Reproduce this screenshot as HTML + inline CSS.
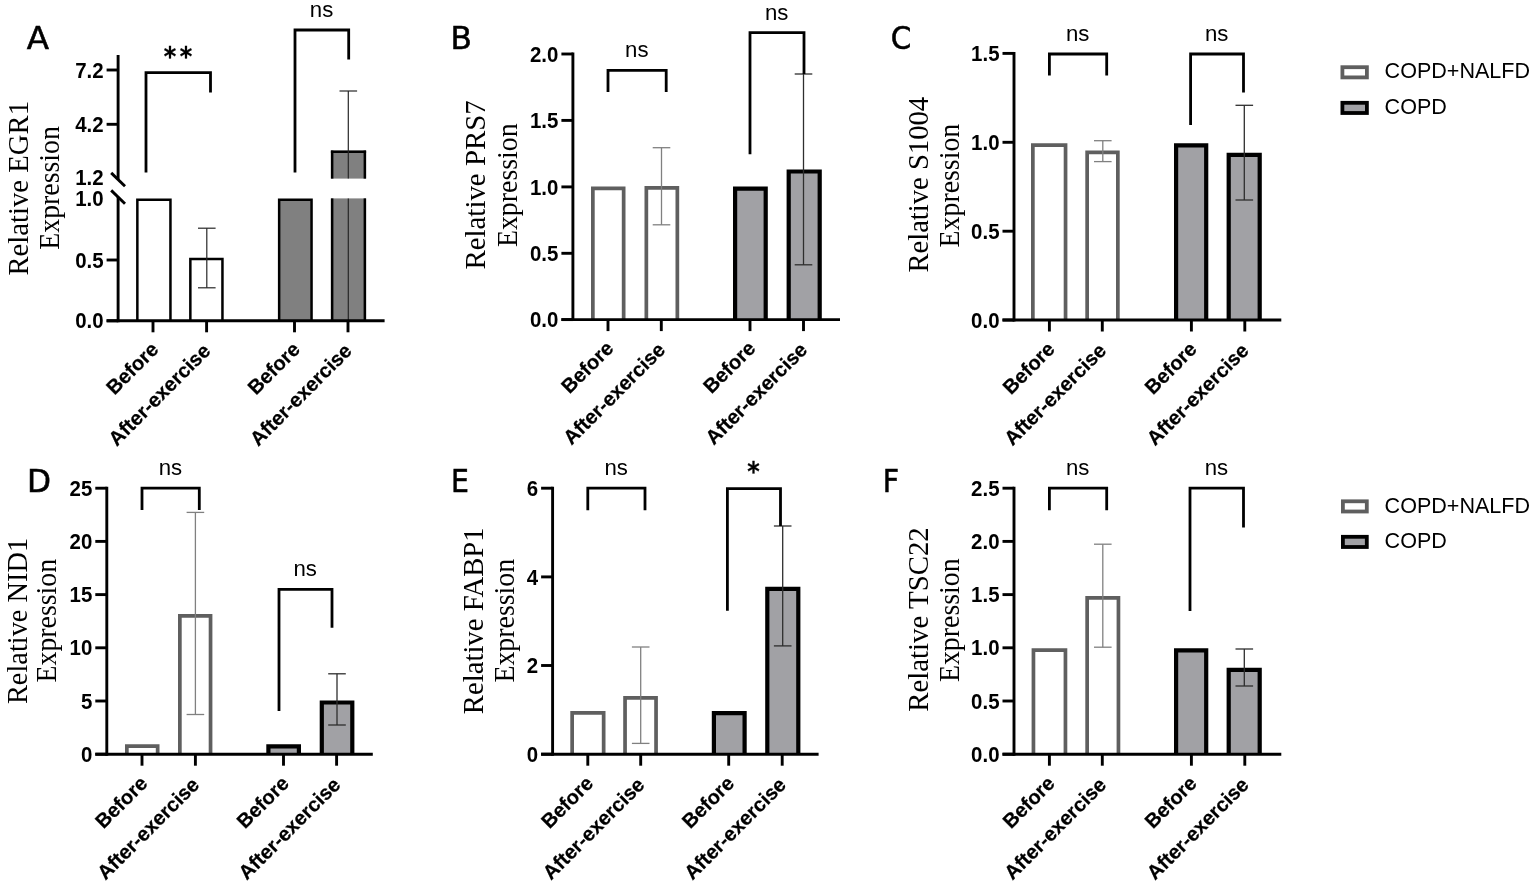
<!DOCTYPE html>
<html lang="en"><head><meta charset="utf-8"><title>Figure</title>
<style>
html,body{margin:0;padding:0;background:#fff;}
body{width:1535px;height:885px;overflow:hidden;}
svg{display:block;}
text{fill:#000;}
</style></head><body>
<svg width="1535" height="885" viewBox="0 0 1535 885">
<rect width="1535" height="885" fill="#fff"/>
<path d="M137.35,320.80 V199.65 H170.45 V320.80" fill="#fff" stroke="#000" stroke-width="2.5" stroke-linejoin="miter"/>
<path d="M190.35,320.80 V259.05 H222.45 V320.80" fill="#fff" stroke="#000" stroke-width="2.5" stroke-linejoin="miter"/>
<line x1="206.80" y1="228.20" x2="206.80" y2="287.80" stroke="#262626" stroke-width="1.2" stroke-linecap="butt"/>
<line x1="198.00" y1="228.20" x2="215.60" y2="228.20" stroke="#262626" stroke-width="1.2" stroke-linecap="butt"/>
<line x1="198.00" y1="287.80" x2="215.60" y2="287.80" stroke="#262626" stroke-width="1.2" stroke-linecap="butt"/>
<path d="M279.15,320.80 V199.65 H311.55 V320.80" fill="#808080" stroke="#000" stroke-width="2.5" stroke-linejoin="miter"/>
<rect x="330.90" y="150.60" width="35.20" height="28.00" fill="#808080"/>
<line x1="332.15" y1="150.60" x2="332.15" y2="178.60" stroke="#000" stroke-width="2.5" stroke-linecap="butt"/>
<line x1="364.85" y1="150.60" x2="364.85" y2="178.60" stroke="#000" stroke-width="2.5" stroke-linecap="butt"/>
<rect x="330.90" y="198.40" width="35.20" height="122.60" fill="#808080"/>
<line x1="332.15" y1="198.40" x2="332.15" y2="321.00" stroke="#000" stroke-width="2.5" stroke-linecap="butt"/>
<line x1="364.85" y1="198.40" x2="364.85" y2="321.00" stroke="#000" stroke-width="2.5" stroke-linecap="butt"/>
<line x1="330.90" y1="151.85" x2="366.10" y2="151.85" stroke="#000" stroke-width="2.5" stroke-linecap="butt"/>
<line x1="348.30" y1="91.00" x2="348.30" y2="178.60" stroke="#262626" stroke-width="1.2" stroke-linecap="butt"/>
<line x1="348.30" y1="198.40" x2="348.30" y2="321.00" stroke="#262626" stroke-width="1.2" stroke-linecap="butt"/>
<line x1="339.50" y1="91.00" x2="357.10" y2="91.00" stroke="#262626" stroke-width="1.2" stroke-linecap="butt"/>
<line x1="118.10" y1="55.00" x2="118.10" y2="179.60" stroke="#000" stroke-width="2.9" stroke-linecap="butt"/>
<line x1="118.10" y1="197.10" x2="118.10" y2="322.25" stroke="#000" stroke-width="2.9" stroke-linecap="butt"/>
<line x1="111.20" y1="172.90" x2="125.00" y2="186.30" stroke="#000" stroke-width="2.9" stroke-linecap="butt"/>
<line x1="111.20" y1="190.40" x2="125.00" y2="203.80" stroke="#000" stroke-width="2.9" stroke-linecap="butt"/>
<line x1="106.60" y1="320.80" x2="384.60" y2="320.80" stroke="#000" stroke-width="2.9" stroke-linecap="butt"/>
<line x1="106.60" y1="70.00" x2="118.10" y2="70.00" stroke="#000" stroke-width="2.9" stroke-linecap="butt"/>
<text transform="translate(103.60 77.60) scale(0.905 1)" font-family='"Liberation Sans", sans-serif' font-size="22.6" font-weight="bold" text-anchor="end">7.2</text>
<line x1="106.60" y1="124.30" x2="118.10" y2="124.30" stroke="#000" stroke-width="2.9" stroke-linecap="butt"/>
<text transform="translate(103.60 131.90) scale(0.905 1)" font-family='"Liberation Sans", sans-serif' font-size="22.6" font-weight="bold" text-anchor="end">4.2</text>
<text transform="translate(103.60 185.10) scale(0.905 1)" font-family='"Liberation Sans", sans-serif' font-size="22.6" font-weight="bold" text-anchor="end">1.2</text>
<text transform="translate(103.60 206.10) scale(0.905 1)" font-family='"Liberation Sans", sans-serif' font-size="22.6" font-weight="bold" text-anchor="end">1.0</text>
<line x1="106.60" y1="260.00" x2="118.10" y2="260.00" stroke="#000" stroke-width="2.9" stroke-linecap="butt"/>
<text transform="translate(103.60 267.60) scale(0.905 1)" font-family='"Liberation Sans", sans-serif' font-size="22.6" font-weight="bold" text-anchor="end">0.5</text>
<line x1="106.60" y1="320.80" x2="118.10" y2="320.80" stroke="#000" stroke-width="2.9" stroke-linecap="butt"/>
<text transform="translate(103.60 328.40) scale(0.905 1)" font-family='"Liberation Sans", sans-serif' font-size="22.6" font-weight="bold" text-anchor="end">0.0</text>
<line x1="153.00" y1="320.80" x2="153.00" y2="332.30" stroke="#000" stroke-width="2.9" stroke-linecap="butt"/>
<line x1="206.60" y1="320.80" x2="206.60" y2="332.30" stroke="#000" stroke-width="2.9" stroke-linecap="butt"/>
<line x1="294.50" y1="320.80" x2="294.50" y2="332.30" stroke="#000" stroke-width="2.9" stroke-linecap="butt"/>
<line x1="348.00" y1="320.80" x2="348.00" y2="332.30" stroke="#000" stroke-width="2.9" stroke-linecap="butt"/>
<text x="159.60" y="350.70" font-family='"Liberation Sans", sans-serif' font-size="20.1" font-weight="bold" text-anchor="end" transform="rotate(-45 159.60 350.70)" stroke="#000" stroke-width="0.25">Before</text>
<text x="211.60" y="352.10" font-family='"Liberation Sans", sans-serif' font-size="20.1" font-weight="bold" text-anchor="end" transform="rotate(-45 211.60 352.10)" stroke="#000" stroke-width="0.25">After-exercise</text>
<text x="301.10" y="350.70" font-family='"Liberation Sans", sans-serif' font-size="20.1" font-weight="bold" text-anchor="end" transform="rotate(-45 301.10 350.70)" stroke="#000" stroke-width="0.25">Before</text>
<text x="353.00" y="352.10" font-family='"Liberation Sans", sans-serif' font-size="20.1" font-weight="bold" text-anchor="end" transform="rotate(-45 353.00 352.10)" stroke="#000" stroke-width="0.25">After-exercise</text>
<polyline points="146.00,172.50 146.00,72.60 210.50,72.60 210.50,92.50" fill="none" stroke="#000" stroke-width="2.8" stroke-linejoin="miter"/>
<text transform="translate(169.85 66.40) scale(0.9 1)" font-family='"DejaVu Sans", sans-serif' font-size="26.5" font-weight="bold" text-anchor="middle" stroke="#000" stroke-width="0.3">*</text>
<text transform="translate(185.85 66.40) scale(0.9 1)" font-family='"DejaVu Sans", sans-serif' font-size="26.5" font-weight="bold" text-anchor="middle" stroke="#000" stroke-width="0.3">*</text>
<polyline points="295.00,172.50 295.00,30.00 348.70,30.00 348.70,59.40" fill="none" stroke="#000" stroke-width="2.8" stroke-linejoin="miter"/>
<text x="321.55" y="16.90" font-family='"Liberation Sans", sans-serif' font-size="22.2" font-weight="normal" text-anchor="middle">ns</text>
<text transform="translate(26.80 48.60) scale(1.15 1)" font-family='"DejaVu Sans Condensed", "DejaVu Sans", "Liberation Sans", sans-serif' font-stretch="condensed" font-size="31.5" stroke="#000" stroke-width="0.5">A</text>
<text x="28.30" y="188.30" font-family='"Liberation Serif", serif' font-size="30.2" font-weight="normal" text-anchor="middle" transform="rotate(-90 28.30 188.30)" fill="#1a1a1a" textLength="174.6" lengthAdjust="spacingAndGlyphs">Relative EGR1</text>
<text x="59.20" y="187.90" font-family='"Liberation Serif", serif' font-size="30.2" font-weight="normal" text-anchor="middle" transform="rotate(-90 59.20 187.90)" fill="#1a1a1a" textLength="123.6" lengthAdjust="spacingAndGlyphs">Expression</text>
<path d="M592.85,319.60 V188.35 H623.65 V319.60" fill="#fff" stroke="#5f5f5f" stroke-width="3.7" stroke-linejoin="miter"/>
<path d="M646.35,319.60 V187.85 H677.35 V319.60" fill="#fff" stroke="#5f5f5f" stroke-width="3.7" stroke-linejoin="miter"/>
<line x1="661.50" y1="147.70" x2="661.50" y2="224.80" stroke="#808080" stroke-width="1.3" stroke-linecap="butt"/>
<line x1="652.70" y1="147.70" x2="670.30" y2="147.70" stroke="#808080" stroke-width="1.3" stroke-linecap="butt"/>
<line x1="652.70" y1="224.80" x2="670.30" y2="224.80" stroke="#808080" stroke-width="1.3" stroke-linecap="butt"/>
<path d="M735.10,319.60 V188.60 H765.70 V319.60" fill="#a1a1a5" stroke="#000" stroke-width="4.2" stroke-linejoin="miter"/>
<path d="M788.70,319.60 V171.50 H819.70 V319.60" fill="#a1a1a5" stroke="#000" stroke-width="4.2" stroke-linejoin="miter"/>
<line x1="803.50" y1="74.00" x2="803.50" y2="264.80" stroke="#2e2e2e" stroke-width="1.3" stroke-linecap="butt"/>
<line x1="794.70" y1="74.00" x2="812.30" y2="74.00" stroke="#2e2e2e" stroke-width="1.3" stroke-linecap="butt"/>
<line x1="794.70" y1="264.80" x2="812.30" y2="264.80" stroke="#2e2e2e" stroke-width="1.3" stroke-linecap="butt"/>
<line x1="572.90" y1="52.55" x2="572.90" y2="321.05" stroke="#000" stroke-width="2.9" stroke-linecap="butt"/>
<line x1="561.40" y1="319.60" x2="840.00" y2="319.60" stroke="#000" stroke-width="2.9" stroke-linecap="butt"/>
<line x1="561.40" y1="54.00" x2="572.90" y2="54.00" stroke="#000" stroke-width="2.9" stroke-linecap="butt"/>
<text transform="translate(558.40 61.60) scale(0.905 1)" font-family='"Liberation Sans", sans-serif' font-size="22.6" font-weight="bold" text-anchor="end">2.0</text>
<line x1="561.40" y1="120.40" x2="572.90" y2="120.40" stroke="#000" stroke-width="2.9" stroke-linecap="butt"/>
<text transform="translate(558.40 128.00) scale(0.905 1)" font-family='"Liberation Sans", sans-serif' font-size="22.6" font-weight="bold" text-anchor="end">1.5</text>
<line x1="561.40" y1="186.90" x2="572.90" y2="186.90" stroke="#000" stroke-width="2.9" stroke-linecap="butt"/>
<text transform="translate(558.40 194.50) scale(0.905 1)" font-family='"Liberation Sans", sans-serif' font-size="22.6" font-weight="bold" text-anchor="end">1.0</text>
<line x1="561.40" y1="253.30" x2="572.90" y2="253.30" stroke="#000" stroke-width="2.9" stroke-linecap="butt"/>
<text transform="translate(558.40 260.90) scale(0.905 1)" font-family='"Liberation Sans", sans-serif' font-size="22.6" font-weight="bold" text-anchor="end">0.5</text>
<line x1="561.40" y1="319.60" x2="572.90" y2="319.60" stroke="#000" stroke-width="2.9" stroke-linecap="butt"/>
<text transform="translate(558.40 327.20) scale(0.905 1)" font-family='"Liberation Sans", sans-serif' font-size="22.6" font-weight="bold" text-anchor="end">0.0</text>
<line x1="608.00" y1="319.60" x2="608.00" y2="331.10" stroke="#000" stroke-width="2.9" stroke-linecap="butt"/>
<line x1="661.30" y1="319.60" x2="661.30" y2="331.10" stroke="#000" stroke-width="2.9" stroke-linecap="butt"/>
<line x1="750.00" y1="319.60" x2="750.00" y2="331.10" stroke="#000" stroke-width="2.9" stroke-linecap="butt"/>
<line x1="803.50" y1="319.60" x2="803.50" y2="331.10" stroke="#000" stroke-width="2.9" stroke-linecap="butt"/>
<text x="614.60" y="349.60" font-family='"Liberation Sans", sans-serif' font-size="20.1" font-weight="bold" text-anchor="end" transform="rotate(-45 614.60 349.60)" stroke="#000" stroke-width="0.25">Before</text>
<text x="666.30" y="351.00" font-family='"Liberation Sans", sans-serif' font-size="20.1" font-weight="bold" text-anchor="end" transform="rotate(-45 666.30 351.00)" stroke="#000" stroke-width="0.25">After-exercise</text>
<text x="756.60" y="349.60" font-family='"Liberation Sans", sans-serif' font-size="20.1" font-weight="bold" text-anchor="end" transform="rotate(-45 756.60 349.60)" stroke="#000" stroke-width="0.25">Before</text>
<text x="808.50" y="351.00" font-family='"Liberation Sans", sans-serif' font-size="20.1" font-weight="bold" text-anchor="end" transform="rotate(-45 808.50 351.00)" stroke="#000" stroke-width="0.25">After-exercise</text>
<polyline points="608.00,92.00 608.00,70.40 666.20,70.40 666.20,92.00" fill="none" stroke="#000" stroke-width="2.8" stroke-linejoin="miter"/>
<text x="636.80" y="57.30" font-family='"Liberation Sans", sans-serif' font-size="22.2" font-weight="normal" text-anchor="middle">ns</text>
<polyline points="750.00,154.30 750.00,32.60 804.00,32.60 804.00,74.00" fill="none" stroke="#000" stroke-width="2.8" stroke-linejoin="miter"/>
<text x="776.70" y="19.50" font-family='"Liberation Sans", sans-serif' font-size="22.2" font-weight="normal" text-anchor="middle">ns</text>
<text transform="translate(450.50 48.70) scale(1.1 1)" font-family='"DejaVu Sans Condensed", "DejaVu Sans", "Liberation Sans", sans-serif' font-stretch="condensed" font-size="31.5" stroke="#000" stroke-width="0.5">B</text>
<text x="485.40" y="184.90" font-family='"Liberation Serif", serif' font-size="30.2" font-weight="normal" text-anchor="middle" transform="rotate(-90 485.40 184.90)" fill="#1a1a1a" textLength="169.4" lengthAdjust="spacingAndGlyphs">Relative PRS7</text>
<text x="516.80" y="185.20" font-family='"Liberation Serif", serif' font-size="30.2" font-weight="normal" text-anchor="middle" transform="rotate(-90 516.80 185.20)" fill="#1a1a1a" textLength="123.7" lengthAdjust="spacingAndGlyphs">Expression</text>
<path d="M1032.85,320.00 V145.15 H1065.55 V320.00" fill="#fff" stroke="#5f5f5f" stroke-width="3.7" stroke-linejoin="miter"/>
<path d="M1087.15,320.00 V152.45 H1117.85 V320.00" fill="#fff" stroke="#5f5f5f" stroke-width="3.7" stroke-linejoin="miter"/>
<line x1="1102.80" y1="140.70" x2="1102.80" y2="161.60" stroke="#808080" stroke-width="1.3" stroke-linecap="butt"/>
<line x1="1094.00" y1="140.70" x2="1111.60" y2="140.70" stroke="#808080" stroke-width="1.3" stroke-linecap="butt"/>
<line x1="1094.00" y1="161.60" x2="1111.60" y2="161.60" stroke="#808080" stroke-width="1.3" stroke-linecap="butt"/>
<path d="M1176.10,320.00 V145.40 H1206.20 V320.00" fill="#a1a1a5" stroke="#000" stroke-width="4.2" stroke-linejoin="miter"/>
<path d="M1228.70,320.00 V154.80 H1259.70 V320.00" fill="#a1a1a5" stroke="#000" stroke-width="4.2" stroke-linejoin="miter"/>
<line x1="1244.30" y1="105.30" x2="1244.30" y2="200.00" stroke="#2e2e2e" stroke-width="1.3" stroke-linecap="butt"/>
<line x1="1235.50" y1="105.30" x2="1253.10" y2="105.30" stroke="#2e2e2e" stroke-width="1.3" stroke-linecap="butt"/>
<line x1="1235.50" y1="200.00" x2="1253.10" y2="200.00" stroke="#2e2e2e" stroke-width="1.3" stroke-linecap="butt"/>
<line x1="1014.00" y1="51.95" x2="1014.00" y2="321.45" stroke="#000" stroke-width="2.9" stroke-linecap="butt"/>
<line x1="1002.50" y1="320.00" x2="1281.30" y2="320.00" stroke="#000" stroke-width="2.9" stroke-linecap="butt"/>
<line x1="1002.50" y1="53.40" x2="1014.00" y2="53.40" stroke="#000" stroke-width="2.9" stroke-linecap="butt"/>
<text transform="translate(999.50 61.00) scale(0.905 1)" font-family='"Liberation Sans", sans-serif' font-size="22.6" font-weight="bold" text-anchor="end">1.5</text>
<line x1="1002.50" y1="142.30" x2="1014.00" y2="142.30" stroke="#000" stroke-width="2.9" stroke-linecap="butt"/>
<text transform="translate(999.50 149.90) scale(0.905 1)" font-family='"Liberation Sans", sans-serif' font-size="22.6" font-weight="bold" text-anchor="end">1.0</text>
<line x1="1002.50" y1="231.20" x2="1014.00" y2="231.20" stroke="#000" stroke-width="2.9" stroke-linecap="butt"/>
<text transform="translate(999.50 238.80) scale(0.905 1)" font-family='"Liberation Sans", sans-serif' font-size="22.6" font-weight="bold" text-anchor="end">0.5</text>
<line x1="1002.50" y1="320.00" x2="1014.00" y2="320.00" stroke="#000" stroke-width="2.9" stroke-linecap="butt"/>
<text transform="translate(999.50 327.60) scale(0.905 1)" font-family='"Liberation Sans", sans-serif' font-size="22.6" font-weight="bold" text-anchor="end">0.0</text>
<line x1="1049.40" y1="320.00" x2="1049.40" y2="331.50" stroke="#000" stroke-width="2.9" stroke-linecap="butt"/>
<line x1="1102.30" y1="320.00" x2="1102.30" y2="331.50" stroke="#000" stroke-width="2.9" stroke-linecap="butt"/>
<line x1="1191.40" y1="320.00" x2="1191.40" y2="331.50" stroke="#000" stroke-width="2.9" stroke-linecap="butt"/>
<line x1="1244.80" y1="320.00" x2="1244.80" y2="331.50" stroke="#000" stroke-width="2.9" stroke-linecap="butt"/>
<text x="1056.00" y="350.40" font-family='"Liberation Sans", sans-serif' font-size="20.1" font-weight="bold" text-anchor="end" transform="rotate(-45 1056.00 350.40)" stroke="#000" stroke-width="0.25">Before</text>
<text x="1107.30" y="351.80" font-family='"Liberation Sans", sans-serif' font-size="20.1" font-weight="bold" text-anchor="end" transform="rotate(-45 1107.30 351.80)" stroke="#000" stroke-width="0.25">After-exercise</text>
<text x="1198.00" y="350.40" font-family='"Liberation Sans", sans-serif' font-size="20.1" font-weight="bold" text-anchor="end" transform="rotate(-45 1198.00 350.40)" stroke="#000" stroke-width="0.25">Before</text>
<text x="1249.80" y="351.80" font-family='"Liberation Sans", sans-serif' font-size="20.1" font-weight="bold" text-anchor="end" transform="rotate(-45 1249.80 351.80)" stroke="#000" stroke-width="0.25">After-exercise</text>
<polyline points="1049.40,75.60 1049.40,54.00 1106.70,54.00 1106.70,75.60" fill="none" stroke="#000" stroke-width="2.8" stroke-linejoin="miter"/>
<text x="1077.75" y="40.90" font-family='"Liberation Sans", sans-serif' font-size="22.2" font-weight="normal" text-anchor="middle">ns</text>
<polyline points="1190.60,125.00 1190.60,54.00 1243.50,54.00 1243.50,92.50" fill="none" stroke="#000" stroke-width="2.8" stroke-linejoin="miter"/>
<text x="1216.75" y="40.90" font-family='"Liberation Sans", sans-serif' font-size="22.2" font-weight="normal" text-anchor="middle">ns</text>
<text transform="translate(890.80 48.50) scale(1.04 1)" font-family='"DejaVu Sans Condensed", "DejaVu Sans", "Liberation Sans", sans-serif' font-stretch="condensed" font-size="31.5" stroke="#000" stroke-width="0.5">C</text>
<text x="927.60" y="184.70" font-family='"Liberation Serif", serif' font-size="30.2" font-weight="normal" text-anchor="middle" transform="rotate(-90 927.60 184.70)" fill="#1a1a1a" textLength="175.8" lengthAdjust="spacingAndGlyphs">Relative S1004</text>
<text x="959.20" y="185.60" font-family='"Liberation Serif", serif' font-size="30.2" font-weight="normal" text-anchor="middle" transform="rotate(-90 959.20 185.60)" fill="#1a1a1a" textLength="123.7" lengthAdjust="spacingAndGlyphs">Expression</text>
<path d="M126.85,754.20 V746.05 H157.65 V754.20" fill="#fff" stroke="#5f5f5f" stroke-width="3.7" stroke-linejoin="miter"/>
<path d="M179.85,754.20 V615.85 H210.55 V754.20" fill="#fff" stroke="#5f5f5f" stroke-width="3.7" stroke-linejoin="miter"/>
<line x1="195.40" y1="512.40" x2="195.40" y2="714.50" stroke="#808080" stroke-width="1.3" stroke-linecap="butt"/>
<line x1="186.60" y1="512.40" x2="204.20" y2="512.40" stroke="#808080" stroke-width="1.3" stroke-linecap="butt"/>
<line x1="186.60" y1="714.50" x2="204.20" y2="714.50" stroke="#808080" stroke-width="1.3" stroke-linecap="butt"/>
<path d="M268.40,754.20 V746.30 H298.90 V754.20" fill="#a1a1a5" stroke="#000" stroke-width="4.2" stroke-linejoin="miter"/>
<path d="M321.80,754.20 V702.50 H352.30 V754.20" fill="#a1a1a5" stroke="#000" stroke-width="4.2" stroke-linejoin="miter"/>
<line x1="337.00" y1="673.80" x2="337.00" y2="725.00" stroke="#2e2e2e" stroke-width="1.3" stroke-linecap="butt"/>
<line x1="328.20" y1="673.80" x2="345.80" y2="673.80" stroke="#2e2e2e" stroke-width="1.3" stroke-linecap="butt"/>
<line x1="328.20" y1="725.00" x2="345.80" y2="725.00" stroke="#2e2e2e" stroke-width="1.3" stroke-linecap="butt"/>
<line x1="106.80" y1="486.75" x2="106.80" y2="755.65" stroke="#000" stroke-width="2.9" stroke-linecap="butt"/>
<line x1="95.30" y1="754.20" x2="372.80" y2="754.20" stroke="#000" stroke-width="2.9" stroke-linecap="butt"/>
<line x1="95.30" y1="488.20" x2="106.80" y2="488.20" stroke="#000" stroke-width="2.9" stroke-linecap="butt"/>
<text transform="translate(92.30 495.80) scale(0.905 1)" font-family='"Liberation Sans", sans-serif' font-size="22.6" font-weight="bold" text-anchor="end">25</text>
<line x1="95.30" y1="541.40" x2="106.80" y2="541.40" stroke="#000" stroke-width="2.9" stroke-linecap="butt"/>
<text transform="translate(92.30 549.00) scale(0.905 1)" font-family='"Liberation Sans", sans-serif' font-size="22.6" font-weight="bold" text-anchor="end">20</text>
<line x1="95.30" y1="594.60" x2="106.80" y2="594.60" stroke="#000" stroke-width="2.9" stroke-linecap="butt"/>
<text transform="translate(92.30 602.20) scale(0.905 1)" font-family='"Liberation Sans", sans-serif' font-size="22.6" font-weight="bold" text-anchor="end">15</text>
<line x1="95.30" y1="647.80" x2="106.80" y2="647.80" stroke="#000" stroke-width="2.9" stroke-linecap="butt"/>
<text transform="translate(92.30 655.40) scale(0.905 1)" font-family='"Liberation Sans", sans-serif' font-size="22.6" font-weight="bold" text-anchor="end">10</text>
<line x1="95.30" y1="701.00" x2="106.80" y2="701.00" stroke="#000" stroke-width="2.9" stroke-linecap="butt"/>
<text transform="translate(92.30 708.60) scale(0.905 1)" font-family='"Liberation Sans", sans-serif' font-size="22.6" font-weight="bold" text-anchor="end">5</text>
<line x1="95.30" y1="754.20" x2="106.80" y2="754.20" stroke="#000" stroke-width="2.9" stroke-linecap="butt"/>
<text transform="translate(92.30 761.80) scale(0.905 1)" font-family='"Liberation Sans", sans-serif' font-size="22.6" font-weight="bold" text-anchor="end">0</text>
<line x1="142.00" y1="754.20" x2="142.00" y2="765.70" stroke="#000" stroke-width="2.9" stroke-linecap="butt"/>
<line x1="195.40" y1="754.20" x2="195.40" y2="765.70" stroke="#000" stroke-width="2.9" stroke-linecap="butt"/>
<line x1="283.50" y1="754.20" x2="283.50" y2="765.70" stroke="#000" stroke-width="2.9" stroke-linecap="butt"/>
<line x1="336.60" y1="754.20" x2="336.60" y2="765.70" stroke="#000" stroke-width="2.9" stroke-linecap="butt"/>
<text x="148.60" y="784.60" font-family='"Liberation Sans", sans-serif' font-size="20.1" font-weight="bold" text-anchor="end" transform="rotate(-45 148.60 784.60)" stroke="#000" stroke-width="0.25">Before</text>
<text x="200.40" y="786.00" font-family='"Liberation Sans", sans-serif' font-size="20.1" font-weight="bold" text-anchor="end" transform="rotate(-45 200.40 786.00)" stroke="#000" stroke-width="0.25">After-exercise</text>
<text x="290.10" y="784.60" font-family='"Liberation Sans", sans-serif' font-size="20.1" font-weight="bold" text-anchor="end" transform="rotate(-45 290.10 784.60)" stroke="#000" stroke-width="0.25">Before</text>
<text x="341.60" y="786.00" font-family='"Liberation Sans", sans-serif' font-size="20.1" font-weight="bold" text-anchor="end" transform="rotate(-45 341.60 786.00)" stroke="#000" stroke-width="0.25">After-exercise</text>
<polyline points="142.00,509.90 142.00,488.20 199.30,488.20 199.30,509.90" fill="none" stroke="#000" stroke-width="2.8" stroke-linejoin="miter"/>
<text x="170.35" y="475.10" font-family='"Liberation Sans", sans-serif' font-size="22.2" font-weight="normal" text-anchor="middle">ns</text>
<polyline points="279.00,711.00 279.00,589.30 332.00,589.30 332.00,627.70" fill="none" stroke="#000" stroke-width="2.8" stroke-linejoin="miter"/>
<text x="305.20" y="576.20" font-family='"Liberation Sans", sans-serif' font-size="22.2" font-weight="normal" text-anchor="middle">ns</text>
<text transform="translate(27.00 492.00) scale(1.1 1)" font-family='"DejaVu Sans Condensed", "DejaVu Sans", "Liberation Sans", sans-serif' font-stretch="condensed" font-size="31.5" stroke="#000" stroke-width="0.5">D</text>
<text x="26.60" y="621.00" font-family='"Liberation Serif", serif' font-size="30.2" font-weight="normal" text-anchor="middle" transform="rotate(-90 26.60 621.00)" fill="#1a1a1a" textLength="166.1" lengthAdjust="spacingAndGlyphs">Relative NID1</text>
<text x="56.30" y="620.70" font-family='"Liberation Serif", serif' font-size="30.2" font-weight="normal" text-anchor="middle" transform="rotate(-90 56.30 620.70)" fill="#1a1a1a" textLength="123.6" lengthAdjust="spacingAndGlyphs">Expression</text>
<path d="M572.15,754.20 V712.85 H603.65 V754.20" fill="#fff" stroke="#5f5f5f" stroke-width="3.7" stroke-linejoin="miter"/>
<path d="M625.05,754.20 V697.85 H656.05 V754.20" fill="#fff" stroke="#5f5f5f" stroke-width="3.7" stroke-linejoin="miter"/>
<line x1="640.70" y1="647.00" x2="640.70" y2="743.40" stroke="#808080" stroke-width="1.3" stroke-linecap="butt"/>
<line x1="631.90" y1="647.00" x2="649.50" y2="647.00" stroke="#808080" stroke-width="1.3" stroke-linecap="butt"/>
<line x1="631.90" y1="743.40" x2="649.50" y2="743.40" stroke="#808080" stroke-width="1.3" stroke-linecap="butt"/>
<path d="M713.90,754.20 V713.10 H744.60 V754.20" fill="#a1a1a5" stroke="#000" stroke-width="4.2" stroke-linejoin="miter"/>
<path d="M767.30,754.20 V588.80 H798.30 V754.20" fill="#a1a1a5" stroke="#000" stroke-width="4.2" stroke-linejoin="miter"/>
<line x1="782.70" y1="526.00" x2="782.70" y2="645.90" stroke="#2e2e2e" stroke-width="1.3" stroke-linecap="butt"/>
<line x1="773.90" y1="526.00" x2="791.50" y2="526.00" stroke="#2e2e2e" stroke-width="1.3" stroke-linecap="butt"/>
<line x1="773.90" y1="645.90" x2="791.50" y2="645.90" stroke="#2e2e2e" stroke-width="1.3" stroke-linecap="butt"/>
<line x1="552.60" y1="486.75" x2="552.60" y2="755.65" stroke="#000" stroke-width="2.9" stroke-linecap="butt"/>
<line x1="541.10" y1="754.20" x2="818.60" y2="754.20" stroke="#000" stroke-width="2.9" stroke-linecap="butt"/>
<line x1="541.10" y1="488.20" x2="552.60" y2="488.20" stroke="#000" stroke-width="2.9" stroke-linecap="butt"/>
<text transform="translate(538.10 495.80) scale(0.905 1)" font-family='"Liberation Sans", sans-serif' font-size="22.6" font-weight="bold" text-anchor="end">6</text>
<line x1="541.10" y1="576.90" x2="552.60" y2="576.90" stroke="#000" stroke-width="2.9" stroke-linecap="butt"/>
<text transform="translate(538.10 584.50) scale(0.905 1)" font-family='"Liberation Sans", sans-serif' font-size="22.6" font-weight="bold" text-anchor="end">4</text>
<line x1="541.10" y1="665.50" x2="552.60" y2="665.50" stroke="#000" stroke-width="2.9" stroke-linecap="butt"/>
<text transform="translate(538.10 673.10) scale(0.905 1)" font-family='"Liberation Sans", sans-serif' font-size="22.6" font-weight="bold" text-anchor="end">2</text>
<line x1="541.10" y1="754.20" x2="552.60" y2="754.20" stroke="#000" stroke-width="2.9" stroke-linecap="butt"/>
<text transform="translate(538.10 761.80) scale(0.905 1)" font-family='"Liberation Sans", sans-serif' font-size="22.6" font-weight="bold" text-anchor="end">0</text>
<line x1="587.80" y1="754.20" x2="587.80" y2="765.70" stroke="#000" stroke-width="2.9" stroke-linecap="butt"/>
<line x1="640.70" y1="754.20" x2="640.70" y2="765.70" stroke="#000" stroke-width="2.9" stroke-linecap="butt"/>
<line x1="728.70" y1="754.20" x2="728.70" y2="765.70" stroke="#000" stroke-width="2.9" stroke-linecap="butt"/>
<line x1="782.20" y1="754.20" x2="782.20" y2="765.70" stroke="#000" stroke-width="2.9" stroke-linecap="butt"/>
<text x="594.40" y="784.60" font-family='"Liberation Sans", sans-serif' font-size="20.1" font-weight="bold" text-anchor="end" transform="rotate(-45 594.40 784.60)" stroke="#000" stroke-width="0.25">Before</text>
<text x="645.70" y="786.00" font-family='"Liberation Sans", sans-serif' font-size="20.1" font-weight="bold" text-anchor="end" transform="rotate(-45 645.70 786.00)" stroke="#000" stroke-width="0.25">After-exercise</text>
<text x="735.30" y="784.60" font-family='"Liberation Sans", sans-serif' font-size="20.1" font-weight="bold" text-anchor="end" transform="rotate(-45 735.30 784.60)" stroke="#000" stroke-width="0.25">Before</text>
<text x="787.20" y="786.00" font-family='"Liberation Sans", sans-serif' font-size="20.1" font-weight="bold" text-anchor="end" transform="rotate(-45 787.20 786.00)" stroke="#000" stroke-width="0.25">After-exercise</text>
<polyline points="587.80,510.20 587.80,488.20 645.00,488.20 645.00,510.20" fill="none" stroke="#000" stroke-width="2.8" stroke-linejoin="miter"/>
<text x="616.10" y="475.10" font-family='"Liberation Sans", sans-serif' font-size="22.2" font-weight="normal" text-anchor="middle">ns</text>
<polyline points="727.40,610.70 727.40,488.60 780.50,488.60 780.50,526.00" fill="none" stroke="#000" stroke-width="2.8" stroke-linejoin="miter"/>
<text transform="translate(753.55 481.30) scale(0.9 1)" font-family='"DejaVu Sans", sans-serif' font-size="26.5" font-weight="bold" text-anchor="middle" stroke="#000" stroke-width="0.3">*</text>
<text transform="translate(451.00 492.00) scale(1 1)" font-family='"DejaVu Sans Condensed", "DejaVu Sans", "Liberation Sans", sans-serif' font-stretch="condensed" font-size="31.5" stroke="#000" stroke-width="0.5">E</text>
<text x="483.10" y="620.75" font-family='"Liberation Serif", serif' font-size="30.2" font-weight="normal" text-anchor="middle" transform="rotate(-90 483.10 620.75)" fill="#1a1a1a" textLength="186.8" lengthAdjust="spacingAndGlyphs">Relative FABP1</text>
<text x="513.70" y="620.70" font-family='"Liberation Serif", serif' font-size="30.2" font-weight="normal" text-anchor="middle" transform="rotate(-90 513.70 620.70)" fill="#1a1a1a" textLength="123.8" lengthAdjust="spacingAndGlyphs">Expression</text>
<path d="M1033.45,754.20 V650.15 H1065.45 V754.20" fill="#fff" stroke="#5f5f5f" stroke-width="3.7" stroke-linejoin="miter"/>
<path d="M1087.15,754.20 V597.85 H1118.45 V754.20" fill="#fff" stroke="#5f5f5f" stroke-width="3.7" stroke-linejoin="miter"/>
<line x1="1102.80" y1="544.20" x2="1102.80" y2="647.20" stroke="#808080" stroke-width="1.3" stroke-linecap="butt"/>
<line x1="1094.00" y1="544.20" x2="1111.60" y2="544.20" stroke="#808080" stroke-width="1.3" stroke-linecap="butt"/>
<line x1="1094.00" y1="647.20" x2="1111.60" y2="647.20" stroke="#808080" stroke-width="1.3" stroke-linecap="butt"/>
<path d="M1176.10,754.20 V650.40 H1206.20 V754.20" fill="#a1a1a5" stroke="#000" stroke-width="4.2" stroke-linejoin="miter"/>
<path d="M1228.70,754.20 V669.90 H1259.70 V754.20" fill="#a1a1a5" stroke="#000" stroke-width="4.2" stroke-linejoin="miter"/>
<line x1="1244.30" y1="649.00" x2="1244.30" y2="686.00" stroke="#2e2e2e" stroke-width="1.3" stroke-linecap="butt"/>
<line x1="1235.50" y1="649.00" x2="1253.10" y2="649.00" stroke="#2e2e2e" stroke-width="1.3" stroke-linecap="butt"/>
<line x1="1235.50" y1="686.00" x2="1253.10" y2="686.00" stroke="#2e2e2e" stroke-width="1.3" stroke-linecap="butt"/>
<line x1="1014.00" y1="486.75" x2="1014.00" y2="755.65" stroke="#000" stroke-width="2.9" stroke-linecap="butt"/>
<line x1="1002.50" y1="754.20" x2="1281.30" y2="754.20" stroke="#000" stroke-width="2.9" stroke-linecap="butt"/>
<line x1="1002.50" y1="488.20" x2="1014.00" y2="488.20" stroke="#000" stroke-width="2.9" stroke-linecap="butt"/>
<text transform="translate(999.50 495.80) scale(0.905 1)" font-family='"Liberation Sans", sans-serif' font-size="22.6" font-weight="bold" text-anchor="end">2.5</text>
<line x1="1002.50" y1="541.40" x2="1014.00" y2="541.40" stroke="#000" stroke-width="2.9" stroke-linecap="butt"/>
<text transform="translate(999.50 549.00) scale(0.905 1)" font-family='"Liberation Sans", sans-serif' font-size="22.6" font-weight="bold" text-anchor="end">2.0</text>
<line x1="1002.50" y1="594.60" x2="1014.00" y2="594.60" stroke="#000" stroke-width="2.9" stroke-linecap="butt"/>
<text transform="translate(999.50 602.20) scale(0.905 1)" font-family='"Liberation Sans", sans-serif' font-size="22.6" font-weight="bold" text-anchor="end">1.5</text>
<line x1="1002.50" y1="647.80" x2="1014.00" y2="647.80" stroke="#000" stroke-width="2.9" stroke-linecap="butt"/>
<text transform="translate(999.50 655.40) scale(0.905 1)" font-family='"Liberation Sans", sans-serif' font-size="22.6" font-weight="bold" text-anchor="end">1.0</text>
<line x1="1002.50" y1="701.00" x2="1014.00" y2="701.00" stroke="#000" stroke-width="2.9" stroke-linecap="butt"/>
<text transform="translate(999.50 708.60) scale(0.905 1)" font-family='"Liberation Sans", sans-serif' font-size="22.6" font-weight="bold" text-anchor="end">0.5</text>
<line x1="1002.50" y1="754.20" x2="1014.00" y2="754.20" stroke="#000" stroke-width="2.9" stroke-linecap="butt"/>
<text transform="translate(999.50 761.80) scale(0.905 1)" font-family='"Liberation Sans", sans-serif' font-size="22.6" font-weight="bold" text-anchor="end">0.0</text>
<line x1="1049.40" y1="754.20" x2="1049.40" y2="765.70" stroke="#000" stroke-width="2.9" stroke-linecap="butt"/>
<line x1="1102.30" y1="754.20" x2="1102.30" y2="765.70" stroke="#000" stroke-width="2.9" stroke-linecap="butt"/>
<line x1="1191.40" y1="754.20" x2="1191.40" y2="765.70" stroke="#000" stroke-width="2.9" stroke-linecap="butt"/>
<line x1="1244.80" y1="754.20" x2="1244.80" y2="765.70" stroke="#000" stroke-width="2.9" stroke-linecap="butt"/>
<text x="1056.00" y="784.60" font-family='"Liberation Sans", sans-serif' font-size="20.1" font-weight="bold" text-anchor="end" transform="rotate(-45 1056.00 784.60)" stroke="#000" stroke-width="0.25">Before</text>
<text x="1107.30" y="786.00" font-family='"Liberation Sans", sans-serif' font-size="20.1" font-weight="bold" text-anchor="end" transform="rotate(-45 1107.30 786.00)" stroke="#000" stroke-width="0.25">After-exercise</text>
<text x="1198.00" y="784.60" font-family='"Liberation Sans", sans-serif' font-size="20.1" font-weight="bold" text-anchor="end" transform="rotate(-45 1198.00 784.60)" stroke="#000" stroke-width="0.25">Before</text>
<text x="1249.80" y="786.00" font-family='"Liberation Sans", sans-serif' font-size="20.1" font-weight="bold" text-anchor="end" transform="rotate(-45 1249.80 786.00)" stroke="#000" stroke-width="0.25">After-exercise</text>
<polyline points="1049.40,510.20 1049.40,488.20 1106.70,488.20 1106.70,510.20" fill="none" stroke="#000" stroke-width="2.8" stroke-linejoin="miter"/>
<text x="1077.75" y="475.10" font-family='"Liberation Sans", sans-serif' font-size="22.2" font-weight="normal" text-anchor="middle">ns</text>
<polyline points="1190.00,610.90 1190.00,488.20 1243.50,488.20 1243.50,527.60" fill="none" stroke="#000" stroke-width="2.8" stroke-linejoin="miter"/>
<text x="1216.45" y="475.10" font-family='"Liberation Sans", sans-serif' font-size="22.2" font-weight="normal" text-anchor="middle">ns</text>
<text transform="translate(882.80 492.00) scale(1 1)" font-family='"DejaVu Sans Condensed", "DejaVu Sans", "Liberation Sans", sans-serif' font-stretch="condensed" font-size="31.5" stroke="#000" stroke-width="0.5">F</text>
<text x="927.70" y="619.50" font-family='"Liberation Serif", serif' font-size="30.2" font-weight="normal" text-anchor="middle" transform="rotate(-90 927.70 619.50)" fill="#1a1a1a" textLength="184.6" lengthAdjust="spacingAndGlyphs">Relative TSC22</text>
<text x="959.10" y="620.20" font-family='"Liberation Serif", serif' font-size="30.2" font-weight="normal" text-anchor="middle" transform="rotate(-90 959.10 620.20)" fill="#1a1a1a" textLength="123.8" lengthAdjust="spacingAndGlyphs">Expression</text>
<rect x="1342.40" y="67.20" width="24.50" height="10.20" fill="#fff" stroke="#5f5f5f" stroke-width="3.8"/>
<rect x="1342.40" y="102.80" width="24.50" height="10.20" fill="#a1a1a5" stroke="#000" stroke-width="3.8"/>
<text x="1384.60" y="78.40" font-family='"Liberation Sans", sans-serif' font-size="21.55" font-weight="normal" text-anchor="start">COPD+NALFD</text>
<text x="1384.60" y="113.60" font-family='"Liberation Sans", sans-serif' font-size="21.55" font-weight="normal" text-anchor="start">COPD</text>
<rect x="1342.90" y="501.30" width="23.90" height="10.20" fill="#fff" stroke="#5f5f5f" stroke-width="3.8"/>
<rect x="1342.90" y="536.80" width="23.90" height="10.20" fill="#a1a1a5" stroke="#000" stroke-width="3.8"/>
<text x="1384.60" y="512.60" font-family='"Liberation Sans", sans-serif' font-size="21.55" font-weight="normal" text-anchor="start">COPD+NALFD</text>
<text x="1384.60" y="547.70" font-family='"Liberation Sans", sans-serif' font-size="21.55" font-weight="normal" text-anchor="start">COPD</text>
</svg>
</body></html>
